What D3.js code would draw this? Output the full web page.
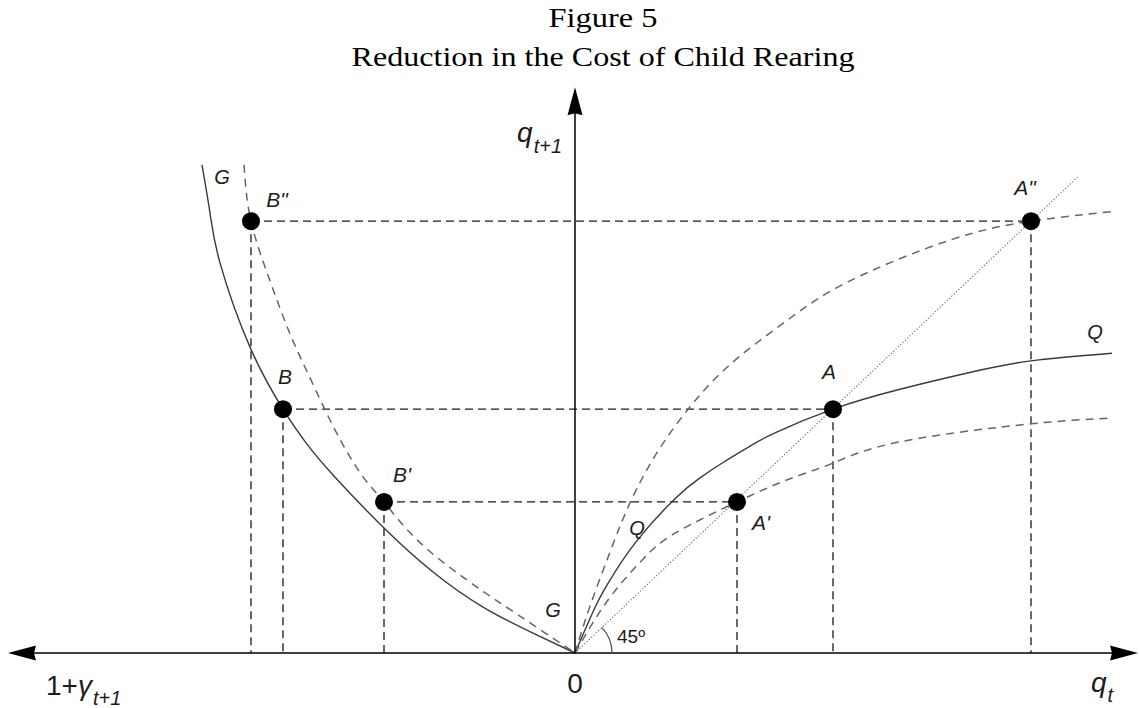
<!DOCTYPE html>
<html>
<head>
<meta charset="utf-8">
<script src="https://cdn.jsdelivr.net/npm/d3@7"></script>
<style>
  body { margin: 0; background: #fff; }
  svg { display: block; }
</style>
</head>
<body>
<svg id="chart" width="1139" height="708"></svg>
<script>
(function()
{
    // chart content (data units, 45 degree line is y = x)
    var titleLines = ["Figure 5", "Reduction in the Cost of Child Rearing"];

    // left quadrant: G curves, x is minus (1 + gamma)
    var gSolid = [[-7.46, 10.31], [-7.30, 9.29], [-7.10, 8.24], [-6.50, 6.46], [-5.84, 5.15],
                  [-5.36, 4.41], [-4.84, 3.76], [-3.84, 2.66], [-2.84, 1.71], [-1.84, 0.97],
                  [-0.84, 0.42], [0, 0]];
    var gDashed = [[-6.62, 10.31], [-6.48, 9.12], [-6.10, 7.86], [-5.70, 6.74], [-5.30, 5.81],
                   [-4.90, 4.92], [-4.50, 4.14], [-4.16, 3.61], [-3.82, 3.19], [-3.16, 2.39],
                   [-2.16, 1.54], [-1.16, 0.82], [0, 0]];

    // right quadrant: Q curves
    var qSolid = [[0, 0], [0.40, 0.96], [0.66, 1.47], [1.20, 2.32], [2.00, 3.26], [2.50, 3.70],
                  [3.00, 4.05], [3.50, 4.37], [4.00, 4.65], [5.16, 5.15], [6.50, 5.57],
                  [8.00, 5.95], [9.12, 6.17], [10.74, 6.33]];
    var qUpper = [[0, 0], [0.30, 0.99], [0.70, 2.13], [1.10, 3.17], [1.70, 4.33], [2.50, 5.45],
                  [3.30, 6.27], [4.30, 7.07], [5.50, 7.86], [7.50, 8.72], [9.12, 9.12], [10.80, 9.33]];
    var qLower = [[0, 0], [0.66, 1.12], [1.34, 1.96], [2.00, 2.53], [3.24, 3.19], [4.20, 3.64],
                  [5.16, 4.01], [6.50, 4.46], [9.12, 4.84], [10.74, 4.96]];
    var diagonalEnd = 10.05;

    // steady states: one row per level, B on the left and A on the right
    var levelY = [9.12, 5.15, 3.19];
    var leftX = [-6.48, -5.84, -3.82];
    var rightX = [9.12, 5.16, 3.24];
    var leftNames = ["B\"", "B", "B'"];
    var rightNames = ["A\"", "A", "A'"];

    // layout
    var svg = d3.select("#chart");
    var x = d3.scaleLinear().domain([0, 10]).range([575, 1075]);
    var y = d3.scaleLinear().domain([0, 10]).range([653, 179.5]);
    var AXIS_LEFT = -11.34, AXIS_RIGHT = 11.26, AXIS_TOP = 11.95;
    var SANS = "'Liberation Sans', Arial, sans-serif";
    var SERIF = "'Liberation Serif', 'Times New Roman', serif";
    var INK = "#1c1c1c";

    var line = d3.line()
        .x(function(d) { return x(d[0]); })
        .y(function(d) { return y(d[1]); })
        .curve(d3.curveNatural);

    // title
    var titleWidths = [109, 503];
    var titleBase = [27, 66];
    titleLines.forEach(function(t, i) {
        svg.append("text")
            .attr("x", 603)
            .attr("y", titleBase[i])
            .attr("text-anchor", "middle")
            .attr("font-family", SERIF)
            .attr("font-size", 28)
            .attr("fill", "#000")
            .attr("textLength", titleWidths[i])
            .attr("lengthAdjust", "spacingAndGlyphs")
            .text(t);
    });

    // 45 degree line
    svg.append("line")
        .attr("x1", x(0)).attr("y1", y(0))
        .attr("x2", x(diagonalEnd)).attr("y2", y(diagonalEnd))
        .attr("stroke", "#666")
        .attr("stroke-width", 1.1)
        .attr("stroke-dasharray", "1.2,2");

    // construction lines
    var guides = svg.append("g")
        .attr("stroke", "#1a1a1a")
        .attr("stroke-width", 1.3)
        .attr("stroke-dasharray", "8,5")
        .attr("fill", "none");
    levelY.forEach(function(v, i) {
        guides.append("line")
            .attr("x1", x(leftX[i])).attr("y1", y(v))
            .attr("x2", x(rightX[i])).attr("y2", y(v));
        guides.append("line")
            .attr("x1", x(leftX[i])).attr("y1", y(v))
            .attr("x2", x(leftX[i])).attr("y2", y(0));
        guides.append("line")
            .attr("x1", x(rightX[i])).attr("y1", y(v))
            .attr("x2", x(rightX[i])).attr("y2", y(0));
    });

    // curves
    function drawCurve(data, dashed) {
        svg.append("path")
            .datum(data)
            .attr("d", line)
            .attr("fill", "none")
            .attr("stroke", dashed ? "#666" : "#3a3a3a")
            .attr("stroke-width", dashed ? 1.5 : 1.4)
            .attr("stroke-dasharray", dashed ? "8,6" : null);
    }
    drawCurve(gSolid, false);
    drawCurve(gDashed, true);
    drawCurve(qSolid, false);
    drawCurve(qUpper, true);
    drawCurve(qLower, true);

    // axes
    svg.append("line")
        .attr("x1", x(AXIS_LEFT) + 20).attr("y1", y(0))
        .attr("x2", x(AXIS_RIGHT) - 20).attr("y2", y(0))
        .attr("stroke", "#000").attr("stroke-width", 1.5);
    svg.append("line")
        .attr("x1", x(0)).attr("y1", y(0))
        .attr("x2", x(0)).attr("y2", y(AXIS_TOP) + 20)
        .attr("stroke", "#000").attr("stroke-width", 1.5);

    function arrowHead(tx, ty, angle) {
        // tip at (tx, ty), pointing along angle (radians)
        var len = 28, half = 7.5;
        var c = Math.cos(angle), s = Math.sin(angle);
        var bx = tx - c * len, by = ty - s * len;
        var p = d3.path();
        p.moveTo(tx, ty);
        p.lineTo(bx - s * half, by + c * half);
        p.lineTo(bx + c * 2, by + s * 2);
        p.lineTo(bx + s * half, by - c * half);
        p.closePath();
        svg.append("path").attr("d", p.toString()).attr("fill", "#000");
    }
    arrowHead(x(AXIS_LEFT), y(0), Math.PI);
    arrowHead(x(AXIS_RIGHT), y(0), 0);
    arrowHead(x(0), y(AXIS_TOP), -Math.PI / 2);

    // 45 degree arc
    var diagAngle = Math.atan2(y(0) - y(1), x(1) - x(0));
    var arc = d3.path();
    arc.arc(x(0), y(0), 37, -diagAngle, 0);
    svg.append("path")
        .attr("d", arc.toString())
        .attr("fill", "none")
        .attr("stroke", "#444")
        .attr("stroke-width", 1.2);
    svg.append("text")
        .attr("x", 617).attr("y", 643)
        .attr("font-family", SANS).attr("font-size", 19)
        .attr("fill", INK)
        .text("45\u00ba");

    // steady state dots and their labels
    var leftOffsets = [[26, -14], [2, -25], [18, -20]];
    var rightOffsets = [[-6, -26], [-4, -30], [24, 28]];
    function label(px, py, txt, size) {
        svg.append("text")
            .attr("x", px).attr("y", py)
            .attr("text-anchor", "middle")
            .attr("font-family", SANS)
            .attr("font-style", "italic")
            .attr("font-size", size)
            .attr("fill", INK)
            .text(txt);
    }
    levelY.forEach(function(v, i) {
        [[leftX[i], leftNames[i], leftOffsets[i]], [rightX[i], rightNames[i], rightOffsets[i]]]
            .forEach(function(pt) {
                svg.append("circle")
                    .attr("cx", x(pt[0])).attr("cy", y(v))
                    .attr("r", 9)
                    .attr("fill", "#000");
                label(x(pt[0]) + pt[2][0], y(v) + pt[2][1], pt[1], 21);
            });
    });

    // curve names
    label(222, 184, "G", 20);
    label(553, 617, "G", 20);
    label(1095, 339, "Q", 20);
    label(637, 535, "Q", 20);

    // axis titles
    var yTitle = svg.append("text")
        .attr("x", 562).attr("y", 142)
        .attr("text-anchor", "end")
        .attr("font-family", SANS)
        .attr("font-style", "italic")
        .attr("fill", INK);
    yTitle.append("tspan").attr("font-size", 28).text("q");
    yTitle.append("tspan").attr("font-size", 20).attr("dy", 11).attr("dx", 1).text("t+1");

    var xTitle = svg.append("text")
        .attr("x", 1091).attr("y", 692)
        .attr("font-family", SANS)
        .attr("font-style", "italic")
        .attr("fill", INK);
    xTitle.append("tspan").attr("font-size", 28).text("q");
    xTitle.append("tspan").attr("font-size", 20).attr("dy", 10).attr("dx", 1).text("t");

    var gTitle = svg.append("text")
        .attr("x", 46).attr("y", 695)
        .attr("font-family", SANS)
        .attr("fill", INK);
    gTitle.append("tspan").attr("font-size", 28).text("1+");
    gTitle.append("tspan").attr("font-size", 28).attr("font-style", "italic").text("\u03b3");
    gTitle.append("tspan").attr("font-size", 20).attr("font-style", "italic")
        .attr("dy", 10).attr("dx", 1).text("t+1");

    svg.append("text")
        .attr("x", x(0)).attr("y", 693)
        .attr("text-anchor", "middle")
        .attr("font-family", SANS)
        .attr("font-size", 28)
        .attr("fill", INK)
        .text("0");
})();
</script>
</body>
</html>
